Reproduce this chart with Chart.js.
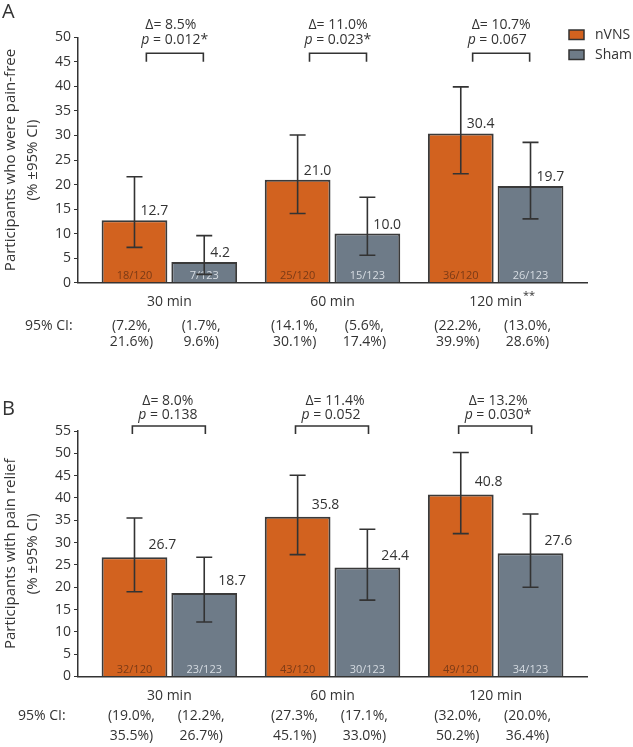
<!DOCTYPE html>
<html>
<head>
<meta charset="utf-8">
<script src="https://cdn.jsdelivr.net/npm/chart.js@4/dist/chart.umd.min.js"></script>
<style>
  html, body { margin: 0; padding: 0; background: #fff; }
  #wrap { position: relative; width: 633px; height: 747px; }
  canvas { position: absolute; left: 0; }
</style>
</head>
<body>
<div id="wrap">
  <canvas id="cA" width="633" height="373" style="top:0"></canvas>
  <canvas id="cB" width="633" height="374" style="top:373px"></canvas>
</div>
<script>
// ---------- DATA ----------
const categories = ['30 min', '60 min', '120 min'];
const seriesNames = ['nVNS', 'Sham'];

// Panel A: pain-free
const nvnsA = [12.7, 21.0, 30.4];
const shamA = [4.2, 10.0, 19.7];
const nvnsLoA = [7.2, 14.1, 22.2];
const nvnsHiA = [21.6, 30.1, 39.9];
const shamLoA = [1.7, 5.6, 13.0];
const shamHiA = [9.6, 17.4, 28.6];
const nvnsCountA = ['18/120', '25/120', '36/120'];
const shamCountA = ['7/123', '15/123', '26/123'];
const deltaA = ['8.5%', '11.0%', '10.7%'];
const pA = ['0.012*', '0.023*', '0.067'];
const yTicksA = [0, 5, 10, 15, 20, 25, 30, 35, 40, 45, 50];

// Panel B: pain relief
const nvnsB = [26.7, 35.8, 40.8];
const shamB = [18.7, 24.4, 27.6];
const nvnsLoB = [19.0, 27.3, 32.0];
const nvnsHiB = [35.5, 45.1, 50.2];
const shamLoB = [12.2, 17.1, 20.0];
const shamHiB = [26.7, 33.0, 36.4];
const nvnsCountB = ['32/120', '43/120', '49/120'];
const shamCountB = ['23/123', '30/123', '34/123'];
const deltaB = ['8.0%', '11.4%', '13.2%'];
const pB = ['0.138', '0.052', '0.030*'];
const yTicksB = [0, 5, 10, 15, 20, 25, 30, 35, 40, 45, 50, 55];

// ---------- STYLE ----------
const FONT = "'Open Sans', 'Noto Sans', sans-serif";
const ORANGE = '#D2621F';
const GREY = '#6E7B88';
const INK = '#333333';
Chart.defaults.font.family = FONT;
Chart.defaults.font.size = 14;
Chart.defaults.color = INK;

const annot = {
  id: 'annot',
  afterDatasetsDraw(chart, args, o) {
    const ctx = chart.ctx;
    const xs = chart.scales.x, ys = chart.scales.y;
    const ca = chart.chartArea;
    const base = ys.getPixelForValue(0);
    ctx.save();
    chart.data.datasets.forEach((ds, di) => {
      const meta = chart.getDatasetMeta(di);
      meta.data.forEach((el, i) => {
        ctx.font = '11px ' + FONT;
        ctx.fillStyle = o.countColors[di];
        ctx.textAlign = 'center';
        ctx.textBaseline = 'middle';
        ctx.fillText(o.counts[di][i], el.x, base - 7);
        const lo = o.lo[di][i], hi = o.hi[di][i];
        const yl = ys.getPixelForValue(lo), yh = ys.getPixelForValue(hi);
        ctx.strokeStyle = INK;
        ctx.lineWidth = 1.6;
        ctx.beginPath();
        ctx.moveTo(el.x, yl); ctx.lineTo(el.x, yh);
        ctx.moveTo(el.x - 8, yl); ctx.lineTo(el.x + 8, yl);
        ctx.moveTo(el.x - 8, yh); ctx.lineTo(el.x + 8, yh);
        ctx.stroke();
        ctx.font = '14px ' + FONT;
        ctx.fillStyle = INK;
        ctx.textAlign = 'left';
        ctx.fillText(ds.data[i].y.toFixed(1), el.x + o.valDx, el.y - o.valDy);
        ctx.textAlign = 'center';
        ctx.fillText('(' + lo.toFixed(1) + '%,', el.x - 3, base + o.ci1);
        ctx.fillText(hi.toFixed(1) + '%)', el.x - 3, base + o.ci2);
      });
    });
    ctx.textAlign = 'left';
    ctx.fillText('95% CI:', o.ciLabelX, base + o.ci1);
    categories.forEach((c, i) => {
      const cx = xs.getPixelForValue(i);
      ctx.strokeStyle = INK;
      ctx.lineWidth = 1.6;
      ctx.beginPath();
      ctx.moveTo(cx + o.brL, ca.top + o.brEnd);
      ctx.lineTo(cx + o.brL, ca.top + o.brTop);
      ctx.lineTo(cx + o.brR, ca.top + o.brTop);
      ctx.lineTo(cx + o.brR, ca.top + o.brEnd);
      ctx.stroke();
      ctx.fillStyle = INK;
      ctx.textAlign = 'left';
      ctx.textBaseline = 'middle';
      ctx.font = '14px ' + FONT;
      ctx.fillText('\u0394= ' + o.delta[i], cx + o.txL + 4, ca.top + o.dY);
      ctx.font = 'italic 14px ' + FONT;
      const px = cx + o.txL;
      ctx.fillText('p', px, ca.top + o.pY);
      const pw = ctx.measureText('p').width;
      ctx.font = '14px ' + FONT;
      ctx.fillText(' = ' + o.p[i], px + pw, ca.top + o.pY);
    });
    if (o.sup) {
      ctx.font = '14px ' + FONT;
      const w = ctx.measureText(categories[2]).width;
      const cx = xs.getPixelForValue(2);
      ctx.font = '11px ' + FONT;
      ctx.textAlign = 'left';
      ctx.fillText(o.sup, cx + w / 2 + 1, base + 13);
    }
    ctx.font = '20px ' + FONT;
    ctx.textAlign = 'left';
    ctx.fillText(o.letter, 2, o.letterY);
    if (o.legend) {
      chart.data.datasets.forEach((ds, di) => {
        const y = 30 + di * 20;
        ctx.fillStyle = ds.backgroundColor;
        ctx.fillRect(569, y, 15, 9.5);
        ctx.strokeStyle = INK;
        ctx.lineWidth = 1.5;
        ctx.strokeRect(569, y, 15, 9.5);
        ctx.fillStyle = INK;
        ctx.font = '14px ' + FONT;
        ctx.textAlign = 'left';
        ctx.textBaseline = 'middle';
        ctx.fillText(ds.label, 595, y + 5);
      });
    }
    ctx.restore();
  }
};

function makePanel(id, cfg) {
  return new Chart(document.getElementById(id), {
    type: 'bar',
    data: {
      datasets: [
        { label: seriesNames[0], data: cfg.nvns.map((v, i) => ({ x: i, y: v })), backgroundColor: ORANGE },
        { label: seriesNames[1], data: cfg.sham.map((v, i) => ({ x: i, y: v })), backgroundColor: GREY }
      ]
    },
    options: {
      responsive: false,
      animation: false,
      devicePixelRatio: 1,
      layout: { padding: { top: cfg.top, right: 46, left: 0, bottom: 0 } },
      datasets: {
        bar: {
          categoryPercentage: 0.855,
          barPercentage: 0.943,
          borderColor: '#3a3a3a',
          borderWidth: 2,
          borderSkipped: 'start'
        }
      },
      plugins: {
        legend: { display: false },
        tooltip: { enabled: false },
        annot: cfg.annot
      },
      scales: {
        x: {
          type: 'linear',
          offset: false,
          min: -0.56,
          max: 2.56,
          afterBuildTicks: (s) => { s.ticks = categories.map((c, i) => ({ value: i })); },
          afterFit: (s) => { s.height = cfg.xh; },
          grid: { display: false, offset: false },
          border: { display: true, color: INK, width: 1.5 },
          ticks: {
            callback: (v) => categories[v],
            autoSkip: false,
            maxRotation: 0,
            padding: cfg.xpad,
            font: { size: 14 },
            color: INK
          }
        },
        y: {
          min: 0,
          max: cfg.ymax,
          afterBuildTicks: (s) => { s.ticks = cfg.yticks.map(v => ({ value: v })); },
          afterFit: (s) => { s.width = 78; },
          grid: { drawOnChartArea: false, drawTicks: true, tickLength: 4, color: INK, lineWidth: 1 },
          border: { display: true, color: INK, width: 1.5 },
          ticks: { padding: 3, font: { size: 14 }, color: INK },
          title: {
            display: true,
            text: cfg.title,
            font: { size: 15, lineHeight: 1.45 },
            color: INK,
            padding: { top: 0, bottom: 0 }
          }
        }
      }
    },
    plugins: [annot]
  });
}

makePanel('cA', {
  nvns: nvnsA, sham: shamA, ymax: 50, yticks: yTicksA, top: 37.3, xh: 373 - 282.7, xpad: 3,
  title: ['Participants who were pain-free', '(% \u00b195% CI)'],
  annot: {
    counts: [nvnsCountA, shamCountA], countColors: ['#7a3a16', '#d6dce2'],
    lo: [nvnsLoA, shamLoA], hi: [nvnsHiA, shamHiA],
    valDx: 6, valDy: 9, ci1: 43.5, ci2: 59,
    ciLabelX: 25, delta: deltaA, p: pA,
    brL: -23, brR: 34, brTop: 16, brEnd: 24.4, txL: -28, dY: -12.3, pY: 2.7,
    sup: '**', letter: 'A', letterY: 12, legend: true
  }
});

makePanel('cB', {
  nvns: nvnsB, sham: shamB, ymax: 55, yticks: yTicksB, top: 58, xh: 374 - 303.5, xpad: 3,
  title: ['Participants with pain relief', '(% \u00b195% CI)'],
  annot: {
    counts: [nvnsCountB, shamCountB], countColors: ['#7a3a16', '#d6dce2'],
    lo: [nvnsLoB, shamLoB], hi: [nvnsHiB, shamHiB],
    valDx: 14, valDy: 12, ci1: 40, ci2: 60,
    ciLabelX: 18, delta: deltaB, p: pB,
    brL: -37, brR: 36, brTop: -5, brEnd: 3, txL: -31, dY: -30.3, pY: -16,
    sup: null, letter: 'B', letterY: 36, legend: false
  }
});
</script>
</body>
</html>
